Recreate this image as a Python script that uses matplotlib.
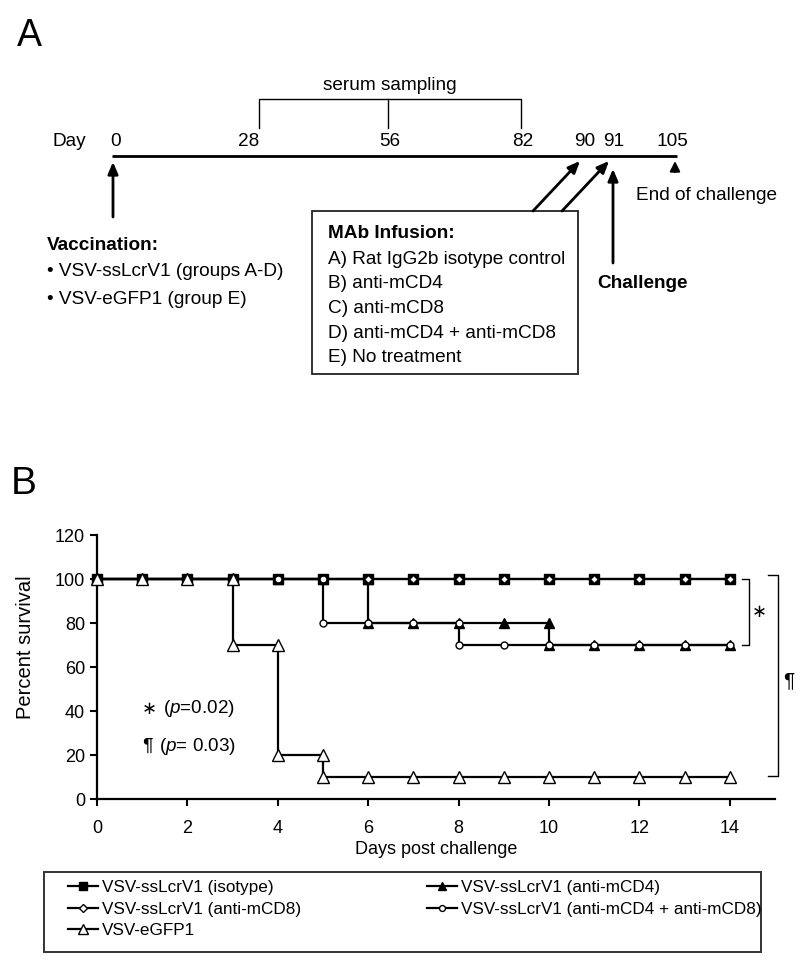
import matplotlib
matplotlib.use('Agg')
import matplotlib.pyplot as plt
from matplotlib.patches import Rectangle

plt.rcParams['font.family'] = ['Liberation Sans', 'DejaVu Sans']
plt.rcParams['mathtext.fontset'] = 'custom'
plt.rcParams['mathtext.rm'] = 'Liberation Sans'
plt.rcParams['mathtext.it'] = 'Liberation Sans:italic'

# ---------------- Panel B data (Kaplan-Meier steps) ----------------
days_isotype = [0, 1, 2, 3, 4, 5, 6, 7, 8, 9, 10, 11, 12, 13, 14]
surv_isotype = [100, 100, 100, 100, 100, 100, 100, 100, 100, 100, 100, 100, 100, 100, 100]

days_cd8 = [0, 1, 2, 3, 4, 5, 6, 7, 8, 9, 10, 11, 12, 13, 14]
surv_cd8 = [100, 100, 100, 100, 100, 100, 100, 100, 100, 100, 100, 100, 100, 100, 100]

days_cd4 = [0, 1, 2, 3, 4, 5, 6, 6, 7, 8, 9, 10, 10, 11, 12, 13, 14]
surv_cd4 = [100, 100, 100, 100, 100, 100, 100, 80, 80, 80, 80, 80, 70, 70, 70, 70, 70]

days_cd4cd8 = [0, 1, 2, 3, 4, 5, 5, 6, 7, 8, 8, 9, 10, 11, 12, 13, 14]
surv_cd4cd8 = [100, 100, 100, 100, 100, 100, 80, 80, 80, 80, 70, 70, 70, 70, 70, 70, 70]

days_egfp = [0, 1, 2, 3, 3, 4, 4, 5, 5, 6, 7, 8, 9, 10, 11, 12, 13, 14]
surv_egfp = [100, 100, 100, 100, 70, 70, 20, 20, 10, 10, 10, 10, 10, 10, 10, 10, 10, 10]

labels_col1 = ['VSV-ssLcrV1 (isotype)', 'VSV-ssLcrV1 (anti-mCD8)', 'VSV-eGFP1']
labels_col2 = ['VSV-ssLcrV1 (anti-mCD4)', 'VSV-ssLcrV1 (anti-mCD4 + anti-mCD8)']
x_ticks = [0, 2, 4, 6, 8, 10, 12, 14]
y_ticks = [0, 20, 40, 60, 80, 100, 120]
p_symbols = ['\u2217', '\u00b6']
p_texts = ['($\\mathit{p}$=0.02)', '($\\mathit{p}$= 0.03)']

# ---------------- Panel A content ----------------
timeline_labels = ['0', '28', '56', '82', '90', '91', '105']
vacc_lines = ['\u2022 VSV-ssLcrV1 (groups A-D)', '\u2022 VSV-eGFP1 (group E)']
mab_lines = ['A) Rat IgG2b isotype control', 'B) anti-mCD4', 'C) anti-mCD8',
             'D) anti-mCD4 + anti-mCD8', 'E) No treatment']

W, H = 800, 965
fig = plt.figure(figsize=(W / 100, H / 100), dpi=100)

# overlay axes in pixel coordinates for panel A + letters
ov = fig.add_axes([0, 0, 1, 1])
ov.set_xlim(0, W)
ov.set_ylim(H, 0)
ov.axis('off')

FS = 13.7
ov.text(17, 36, 'A', fontsize=27, va='center', ha='left')
ov.text(11, 484, 'B', fontsize=28, va='center', ha='left')

# timeline
ov.plot([112, 677], [156, 156], color='black', lw=2.0, solid_capstyle='butt')
ov.text(52, 142, 'Day', fontsize=FS, va='center', ha='left')
label_x = [116, 249, 390, 523, 585, 614, 672]
for lx, lab in zip(label_x, timeline_labels):
    ov.text(lx, 142, lab, fontsize=FS, va='center', ha='center')

# serum sampling bracket
ov.plot([259, 259, 521, 521], [128, 99, 99, 128], color='black', lw=1.0)
ov.plot([388, 388], [99, 128], color='black', lw=1.0)
ov.text(390, 86, 'serum sampling', fontsize=FS, va='center', ha='center')

arrow_kw = dict(arrowstyle='-|>,head_length=0.7,head_width=0.3', color='black',
                lw=2.0, shrinkA=0, shrinkB=0, mutation_scale=10)
# vaccination arrow
ov.annotate('', xy=(113, 162), xytext=(113, 217), arrowprops=arrow_kw)
ov.text(47, 245, 'Vaccination:', fontsize=FS, fontweight='bold', va='center', ha='left')
for i, t in enumerate(vacc_lines):
    ov.text(47, 272 + i * 27.5, t, fontsize=FS, va='center', ha='left')

# MAb box
ov.add_patch(Rectangle((312, 211), 266, 163, fill=False, edgecolor='#222222', lw=1.3))
ov.text(328, 233, 'MAb Infusion:', fontsize=FS, fontweight='bold', va='center', ha='left')
for i, t in enumerate(mab_lines):
    ov.text(328, 259.5 + i * 24.5, t, fontsize=FS, va='center', ha='left')

# diagonal arrows to 90 / 91
ov.annotate('', xy=(580, 161), xytext=(533, 211), arrowprops=arrow_kw)
ov.annotate('', xy=(609, 161), xytext=(562, 211), arrowprops=arrow_kw)

# challenge arrow
ov.annotate('', xy=(613, 169), xytext=(613, 263), arrowprops=arrow_kw)
ov.text(597, 283, 'Challenge', fontsize=FS, fontweight='bold', va='center', ha='left')

# end of challenge arrow
ov.annotate('', xy=(675, 161), xytext=(675, 172),
            arrowprops=dict(arrowstyle='-|>,head_length=0.6,head_width=0.3', color='black',
                            lw=1.5, shrinkA=0, shrinkB=0, mutation_scale=10))
ov.text(636, 196, 'End of challenge', fontsize=FS, va='center', ha='left')

# legend frame (panel B)
ov.add_patch(Rectangle((44, 872), 717, 80, fill=False, edgecolor='#333333', lw=1.4))

# ---------------- Panel B ----------------
ax = fig.add_axes([97 / W, 1 - 799 / H, (775 - 97) / W, (799 - 535) / H])
ax.set_xlim(0, 15)
ax.set_ylim(0, 120)

lw = 1.6
h_iso, = ax.plot(days_isotype, surv_isotype, color='black', lw=lw, marker='s', ms=7,
                 mfc='black', mec='black', clip_on=False, zorder=3)
h_cd4, = ax.plot(days_cd4, surv_cd4, color='black', lw=lw, marker='^', ms=7.5,
                 mfc='black', mec='black', clip_on=False, zorder=4)
h_cd8, = ax.plot(days_cd8, surv_cd8, color='black', lw=lw, marker='D', ms=4.5,
                 mfc='white', mec='black', mew=1.0, clip_on=False, zorder=5)
h_cd48, = ax.plot(days_cd4cd8, surv_cd4cd8, color='black', lw=lw, marker='o', ms=5,
                  mfc='white', mec='black', mew=1.0, clip_on=False, zorder=6)
h_egfp, = ax.plot(days_egfp, surv_egfp, color='black', lw=lw, marker='^', ms=8,
                  mfc='white', mec='black', mew=1.0, clip_on=False, zorder=7)

ax.set_xticks(x_ticks)
ax.set_yticks(y_ticks)
ax.tick_params(direction='out', length=5, width=1.5, labelsize=13)
ax.tick_params(axis='x', pad=10)
for s in ['top', 'right']:
    ax.spines[s].set_visible(False)
for s in ['left', 'bottom']:
    ax.spines[s].set_linewidth(1.6)
ax.set_ylabel('Percent survival', fontsize=14.5)
ax.yaxis.set_label_coords(-0.092, 0.576)
ax.set_xlabel('Days post challenge', fontsize=13, labelpad=3)

# p-value annotations
ax.text(1.0, 41, p_symbols[0], fontsize=13, va='center', ha='left', family='DejaVu Sans')
ax.text(1.45, 41, p_texts[0], fontsize=13.6, va='center', ha='left')
ax.text(1.0, 24, p_symbols[1], fontsize=14, va='center', ha='left')
ax.text(1.38, 24, p_texts[1], fontsize=13.6, va='center', ha='left')

# significance brackets
ax.plot([14.27, 14.42, 14.42, 14.27], [100, 100, 70, 70], color='black', lw=1.0, clip_on=False)
ax.text(14.65, 85, p_symbols[0], fontsize=13, va='center', ha='center', family='DejaVu Sans')
ax.plot([14.85, 15.07, 15.07, 14.85], [101.8, 101.8, 10.5, 10.5], color='black', lw=1.0, clip_on=False)
ax.text(15.3, 54, p_symbols[1], fontsize=15, va='center', ha='center')

leg_kw = dict(loc='upper left', bbox_transform=fig.transFigure, borderaxespad=0,
              fontsize=12.3, frameon=False, handlelength=1.75, handletextpad=0.25,
              labelspacing=0.39, borderpad=0, markerscale=0.85)
leg1 = ax.legend([h_iso, h_cd8, h_egfp], labels_col1,
                 bbox_to_anchor=(68 / W, 1 - 880 / H), **leg_kw)
ax.add_artist(leg1)
leg2 = ax.legend([h_cd4, h_cd48], labels_col2,
                 bbox_to_anchor=(427 / W, 1 - 880 / H), **leg_kw)

fig.savefig('out.png', dpi=100)
